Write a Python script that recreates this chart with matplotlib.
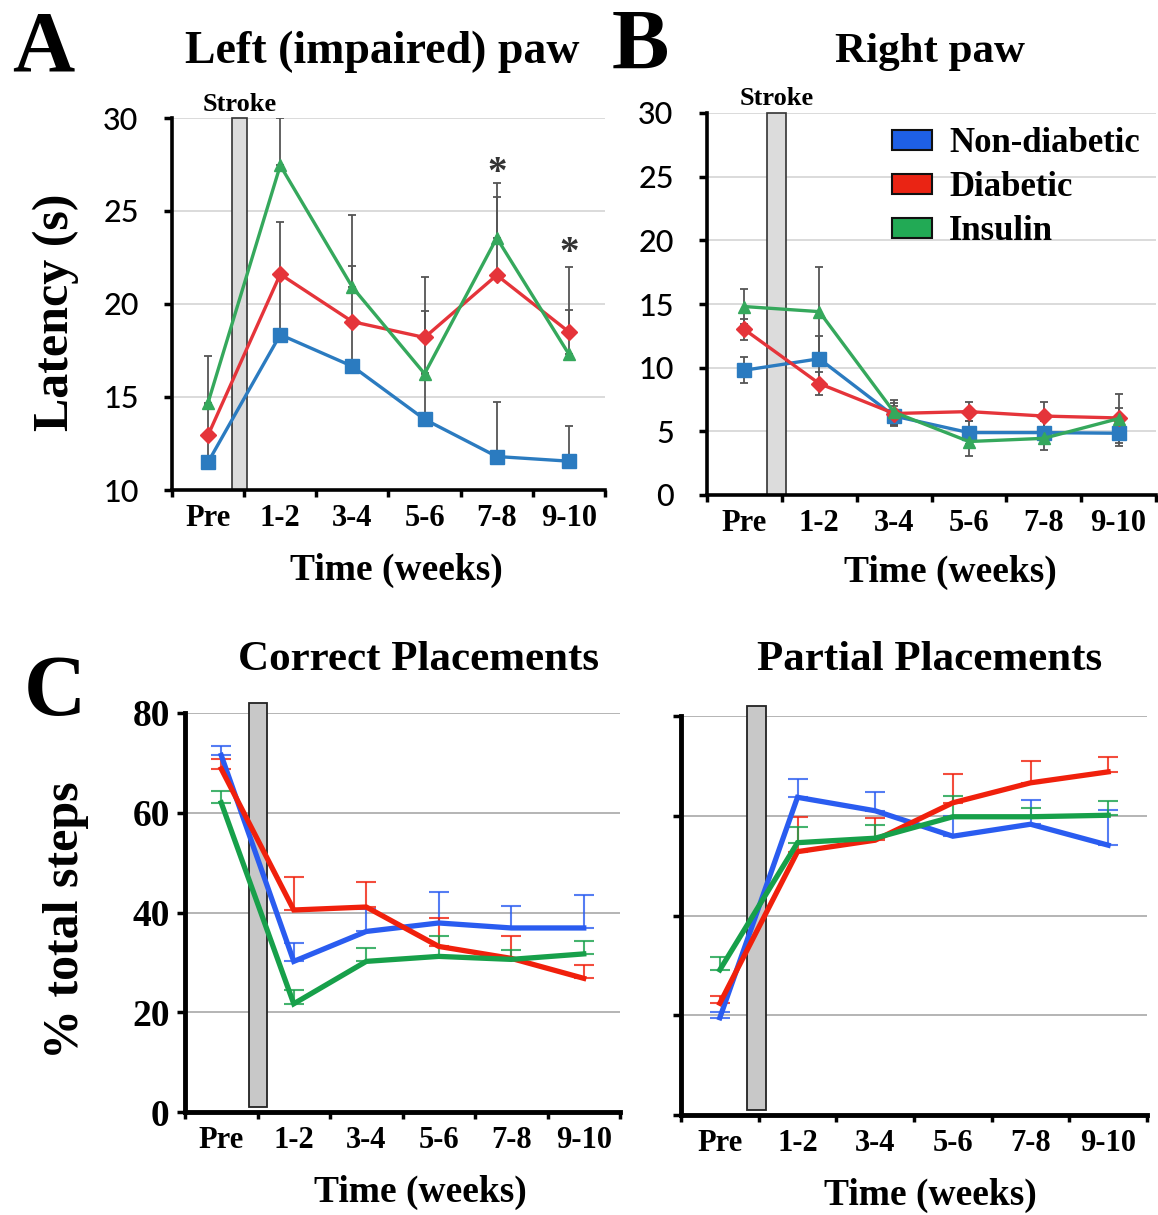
import numpy as np
import matplotlib
matplotlib.use('Agg')
import matplotlib.pyplot as plt
from matplotlib.patches import Rectangle, Patch

W, H = 1158, 1215

weeks = ['Pre', '1-2', '3-4', '5-6', '7-8', '9-10']
groups = ['Non-diabetic', 'Diabetic', 'Insulin']

# A: left (impaired) paw latency (s), mean and upper SEM
left_nd = [11.5, 18.35, 16.65, 13.8, 11.8, 11.55]
left_nd_err = [1.3, 3.0, 2.4, 2.5, 2.95, 1.9]
left_db = [12.95, 21.6, 19.05, 18.2, 21.55, 18.5]
left_db_err = [1.6, 2.8, 3.0, 1.4, 4.2, 1.2]
left_in = [14.7, 27.45, 20.9, 16.25, 23.55, 17.3]
left_in_err = [2.5, 2.55, 3.9, 5.2, 2.95, 4.7]

# B: right paw latency (s)
right_nd = [9.8, 10.7, 6.2, 4.9, 4.9, 4.85]
right_nd_err = [1.0, 1.8, 0.8, 0.9, 0.9, 1.0]
right_db = [13.0, 8.75, 6.4, 6.55, 6.2, 6.05]
right_db_err = [0.8, 0.9, 0.8, 0.75, 1.1, 0.8]
right_in = [14.8, 14.4, 6.5, 4.2, 4.45, 6.0]
right_in_err = [1.4, 3.5, 1.0, 1.1, 0.9, 1.9]

# C: correct placements (% total steps)
corr_nd = [71.5, 30.2, 36.2, 37.9, 36.9, 36.9]
corr_nd_err = [1.8, 3.6, 4.5, 6.3, 4.4, 6.6]
corr_db = [68.8, 40.5, 41.1, 33.2, 30.8, 26.8]
corr_db_err = [2.0, 6.6, 5.1, 5.7, 4.4, 2.7]
corr_in = [62.0, 21.7, 30.2, 31.2, 30.6, 31.7]
corr_in_err = [2.3, 2.8, 2.6, 4.0, 1.8, 2.5]

# C: partial placements (% total steps)
part_nd = [19.5, 63.7, 61.0, 55.9, 58.3, 54.1]
part_nd_err = [1.2, 3.6, 3.8, 4.0, 4.9, 7.0]
part_db = [22.4, 52.8, 55.1, 62.6, 66.6, 68.8]
part_db_err = [1.5, 7.0, 4.5, 5.8, 4.4, 2.9]
part_in = [29.1, 54.6, 55.5, 59.8, 59.8, 60.1]
part_in_err = [2.5, 3.1, 2.6, 4.2, 1.7, 2.9]

col_ab = ['#2b7bc0', '#e5343a', '#35a85c']
col_c = ['#2a5cf0', '#f0200c', '#17a04a']
markers = ['s', 'D', '^']
msizes = [10, 8, 9]

serif = 'Liberation Serif'
sans = 'Lato'

fig = plt.figure(figsize=(W / 100, H / 100), dpi=100)


def px_axes(l, t, r, b):
    return fig.add_axes([l / W, 1 - b / H, (r - l) / W, (b - t) / H])


def ftext(x, y, s, **kw):
    fig.text(x / W, 1 - y / H, s, **kw)


def style_axes(ax, ymin, ymax, ystep, spine_w, grid_c, ylab_font, ylab_size, ypad):
    x = np.arange(len(weeks))
    ax.set_xlim(-0.5, len(weeks) - 0.5)
    ax.set_ylim(ymin, ymax)
    ax.set_yticks(np.arange(ymin, ymax + 0.1, ystep))
    for v in np.arange(ymin + ystep, ymax + 0.1, ystep):
        ax.axhline(v, color=grid_c, lw=1.2, zorder=0)
    ax.set_xticks(x)
    ax.set_xticklabels(weeks, fontfamily=serif, fontweight='bold', fontsize=22)
    ax.set_xticks(np.arange(-0.5, len(weeks)), minor=True)
    ax.tick_params(axis='x', which='major', length=0, pad=10)
    ax.tick_params(axis='x', which='minor', length=5, width=2.5, direction='out')
    ax.tick_params(axis='y', length=6, width=2.5, direction='out', pad=ypad)
    for lab in ax.get_yticklabels():
        lab.set_fontfamily(ylab_font)
        lab.set_fontsize(ylab_size)
        lab.set_fontweight('bold' if ylab_font == serif else 'medium')
    for s in ['top', 'right']:
        ax.spines[s].set_visible(False)
    for s in ['left', 'bottom']:
        ax.spines[s].set_linewidth(spine_w)
    ax.set_facecolor('none')


def latency_panel(ax, series, errs, bar, upper_only):
    x = np.arange(len(weeks))
    for y, e in zip(series, errs):
        yerr = [np.zeros(len(e)), e] if upper_only else e
        ax.errorbar(x, y, yerr=yerr, fmt='none', ecolor='#555555', elinewidth=1.3,
                    capsize=3, capthick=1.3, zorder=2)
    for i, y in enumerate(series):
        ax.plot(x, y, color=col_ab[i], lw=2.4, marker=markers[i], ms=msizes[i],
                mec=col_ab[i], zorder=3)
    lo, hi = ax.get_ylim()
    ax.add_patch(Rectangle((bar[0], lo), bar[1] - bar[0], hi - lo, fc='#dcdcdc',
                           ec='#333333', lw=1.2, zorder=1, clip_on=False))


def place_panel(ax, series, errs, bar):
    x = np.arange(len(weeks))
    for i, (y, e) in enumerate(zip(series, errs)):
        ax.errorbar(x, y, yerr=[np.zeros(len(e)), e], fmt='none', ecolor=col_c[i],
                    elinewidth=1.5, capsize=7, capthick=1.5, zorder=2, alpha=0.8)
    for i, y in enumerate(series):
        ax.plot(x, y, color=col_c[i], lw=3.8, solid_joinstyle='miter', zorder=3)
    ax.add_patch(Rectangle((bar[0], 1), bar[1] - bar[0], 81, fc='#c8c8c8',
                           ec='#222222', lw=1.3, zorder=1, clip_on=False))


# ---- A
axA = px_axes(172, 118, 605, 490)
style_axes(axA, 10, 30, 5, 2.6, '#d4d4d4', sans, 22, 18)
latency_panel(axA, [left_nd, left_db, left_in],
              [left_nd_err, left_db_err, left_in_err], (0.33, 0.54), True)
axA.text(4, 27.0, '*', ha='center', va='center', fontfamily=serif, fontsize=28,
         fontweight='bold', color='#333333')
axA.text(5, 22.7, '*', ha='center', va='center', fontfamily=serif, fontsize=28,
         fontweight='bold', color='#333333')
axA.text(0.44, 30.1, 'Stroke', ha='center', va='bottom', fontfamily=serif,
         fontsize=19, fontweight='bold')

# ---- B
axB = px_axes(707, 113, 1156, 495)
style_axes(axB, 0, 30, 5, 2.6, '#d4d4d4', sans, 22, 18)
latency_panel(axB, [right_nd, right_db, right_in],
              [right_nd_err, right_db_err, right_in_err], (0.30, 0.55), False)
axB.text(0.43, 30.2, 'Stroke', ha='center', va='bottom', fontfamily=serif,
         fontsize=19, fontweight='bold')
handles = [Patch(fc=c, ec='#111111', lw=1.5) for c in ['#1e60e6', '#ea2414', '#22aa55']]
axB.legend(handles, groups, loc='upper left', bbox_to_anchor=(892 / W, 1 - 127 / H),
           bbox_transform=fig.transFigure, frameon=False, borderaxespad=0,
           borderpad=0, handlelength=1.15, handleheight=0.5, handletextpad=0.5,
           labelspacing=0.32, prop={'family': serif, 'weight': 'bold', 'size': 25})

# ---- C left
axC1 = px_axes(185, 713, 620, 1112)
style_axes(axC1, 0, 80, 20, 3.5, '#a8a8a8', serif, 27, 5)
place_panel(axC1, [corr_nd, corr_db, corr_in],
            [corr_nd_err, corr_db_err, corr_in_err], (0.38, 0.63))

# ---- C right
axC2 = px_axes(681, 716, 1147, 1115)
style_axes(axC2, 0, 80, 20, 3.5, '#a8a8a8', serif, 27, 5)
axC2.set_yticklabels([])
place_panel(axC2, [part_nd, part_db, part_in],
            [part_nd_err, part_db_err, part_in_err], (0.35, 0.59))

# ---- figure text
bold = dict(fontfamily=serif, fontweight='bold', ha='center', va='center')
ftext(43, 50, 'A', fontsize=62, **bold)
ftext(640, 48, 'B', fontsize=62, **bold)
ftext(55, 694, 'C', fontsize=62, **bold)
ftext(382, 52, 'Left (impaired) paw', fontsize=33, **bold)
ftext(930, 52, 'Right paw', fontsize=31, **bold)
ftext(418, 660, 'Correct Placements', fontsize=31, **bold)
ftext(930, 660, 'Partial Placements', fontsize=31, **bold)
ftext(56, 312, 'Latency (s)', fontsize=36, rotation=90, **bold)
ftext(66, 920, '% total steps', fontsize=36, rotation=90, **bold)
ftext(396, 570, 'Time (weeks)', fontsize=27, **bold)
ftext(950, 572, 'Time (weeks)', fontsize=27, **bold)
ftext(420, 1192, 'Time (weeks)', fontsize=27, **bold)
ftext(930, 1195, 'Time (weeks)', fontsize=27, **bold)

fig.savefig('out.png', dpi=100)
